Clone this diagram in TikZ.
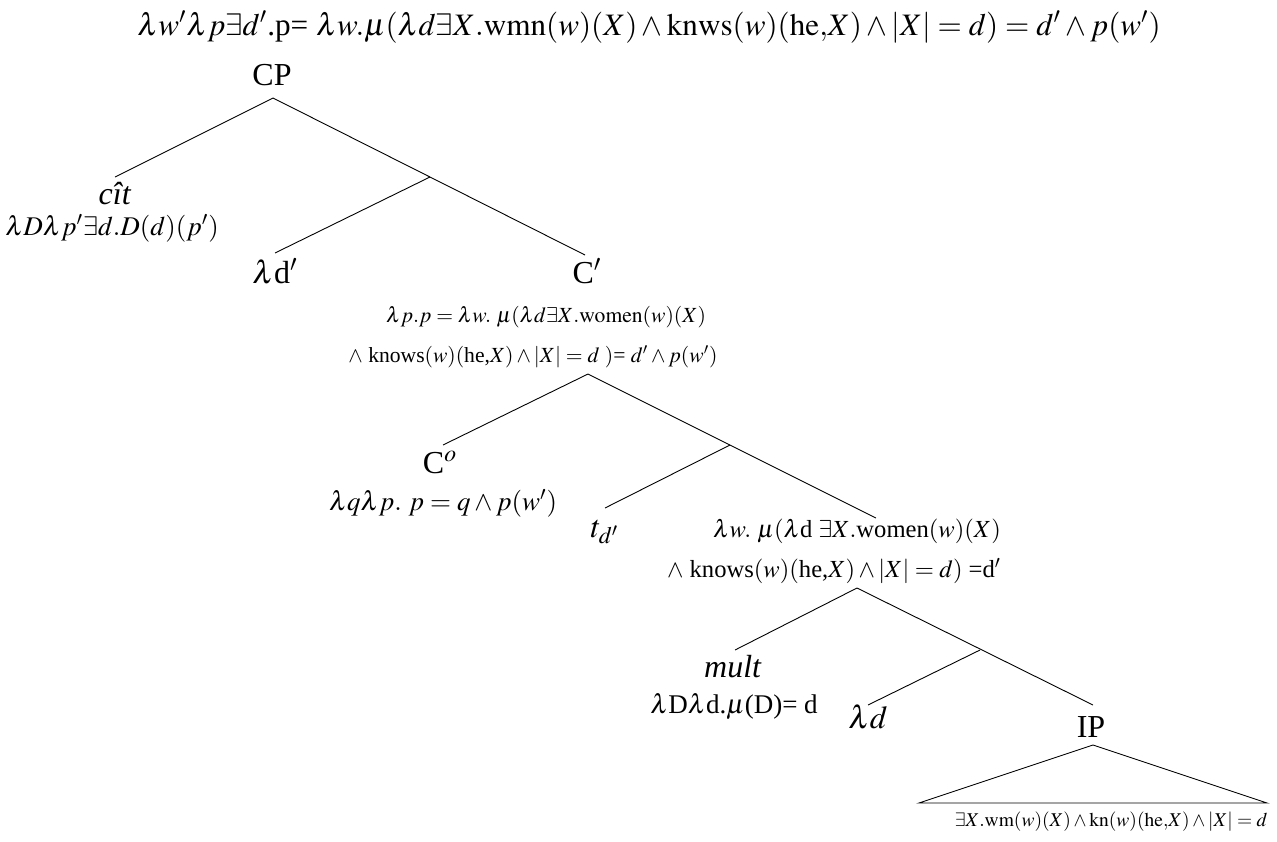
\documentclass[tikz,border=0pt]{standalone}
\usepackage{mathptmx}
\usepackage[no-math]{fontspec}
\setmainfont{Liberation Serif}
\usetikzlibrary{positioning}
\tikzset{
  lbl/.style={inner sep=0pt,anchor=base,font=\fontsize{16}{19}\selectfont},
  sem/.style={inner sep=0pt,anchor=base,font=\fontsize{13.5}{16}\selectfont},
  cbsem/.style={inner sep=0pt,anchor=base,font=\fontsize{10.8}{13}\selectfont},
  wsem/.style={inner sep=0pt,anchor=base,font=\fontsize{12.3}{14}\selectfont},
  topsem/.style={inner sep=0pt,anchor=base,font=\fontsize{15.6}{19}\selectfont},
  leaf/.style={inner sep=0pt,anchor=base,font=\fontsize{9.75}{12}\selectfont},
  branch/.style={line width=0.45pt}
}
\begin{document}
\begin{tikzpicture}[x=0.5pt,y=-0.5pt]
  \useasboundingbox (0,0) rectangle (1277,841);
  % formula on top
  \node[topsem] (top) at (649,35) {$\lambda w'\lambda p\exists d'$.p= $\lambda w.\mu(\lambda d\exists X.\mathrm{wmn}(w)(X) \wedge \mathrm{knws}(w)(\mathrm{he,}X) \wedge |X| = d) = d' \wedge p(w')$};
  % CP level
  \node[lbl] (cp) at (272,85) {CP};
  \coordinate (cpTop) at (273,98);
  \coordinate (citTop) at (115,177);
  \coordinate (cpMid) at (430,177);
  \coordinate (ldTop) at (275,253);
  \coordinate (cbTop) at (585,255);
  \node[lbl] (cit) at (115,204) {\textit{cît}};
  \node[sem] (citSem) at (112,235) {$\lambda D\lambda p'\exists d.D(d)(p')$};
  \node[lbl] (ld) at (275,283) {$\lambda$d$'$};
  \node[lbl] (cbar) at (587,283) {C$'$};
  \node[cbsem] (cbarSemA) at (546,322) {$\lambda p.p = \lambda w.\ \mu(\lambda d\exists X.\mathrm{women}(w)(X)$};
  \node[cbsem] (cbarSemB) at (533,362) {$\wedge$ knows$(w)($he,$X) \wedge |X| = d\ )$= $d' \wedge p(w')$};
  \draw[branch] (citTop) -- (cpTop) -- (cbTop);
  \draw[branch] (cpMid) -- (ldTop);
  % C' level
  \coordinate (cbBot) at (588,374);
  \coordinate (coTop) at (443,445);
  \coordinate (cbMid) at (730,445);
  \coordinate (tTop) at (605,508);
  \coordinate (wTop) at (876,518);
  \node[lbl] (co) at (440,473) {C$^o$};
  \node[sem] (coSem) at (443,510) {$\lambda q\lambda p.\ p = q \wedge p(w')$};
  \node[lbl] (tr) at (605,537) {$t_{d'}$};
  \node[wsem] (wSemA) at (857,537) {$\lambda w.\ \mu(\lambda$d $\exists X.$women$(w)(X)$};
  \node[wsem] (wSemB) at (834,577) {$\wedge$ knows$(w)($he,$X) \wedge |X| = d)$ =d$'$};
  \draw[branch] (coTop) -- (cbBot) -- (wTop);
  \draw[branch] (cbMid) -- (tTop);
  % lower level
  \coordinate (wBot) at (857,588);
  \coordinate (multTop) at (735,650);
  \coordinate (wMid) at (980,650);
  \coordinate (ldTopB) at (868,705);
  \coordinate (ipTop) at (1093,705);
  \node[lbl] (mult) at (733,677) {\textit{mult}};
  \node[sem] (multSem) at (734,713) {$\lambda$D$\lambda$d.$\mu$(D)= d};
  \node[lbl] (ldb) at (868,728) {$\lambda d$};
  \node[lbl] (ip) at (1091,737) {IP};
  \draw[branch] (multTop) -- (wBot) -- (ipTop);
  \draw[branch] (wMid) -- (ldTopB);
  % triangle under IP
  \coordinate (ipBot) at (1093,745);
  \coordinate (triL) at (919,803);
  \coordinate (triR) at (1267,803);
  \draw[branch] (triL) -- (ipBot) -- (triR) -- cycle;
  \node[leaf] (ipSem) at (1111,826) {$\exists X.\mathrm{wm}(w)(X) \wedge \mathrm{kn}(w)(\mathrm{he,}X) \wedge |X| = d$};
\end{tikzpicture}
\end{document}
